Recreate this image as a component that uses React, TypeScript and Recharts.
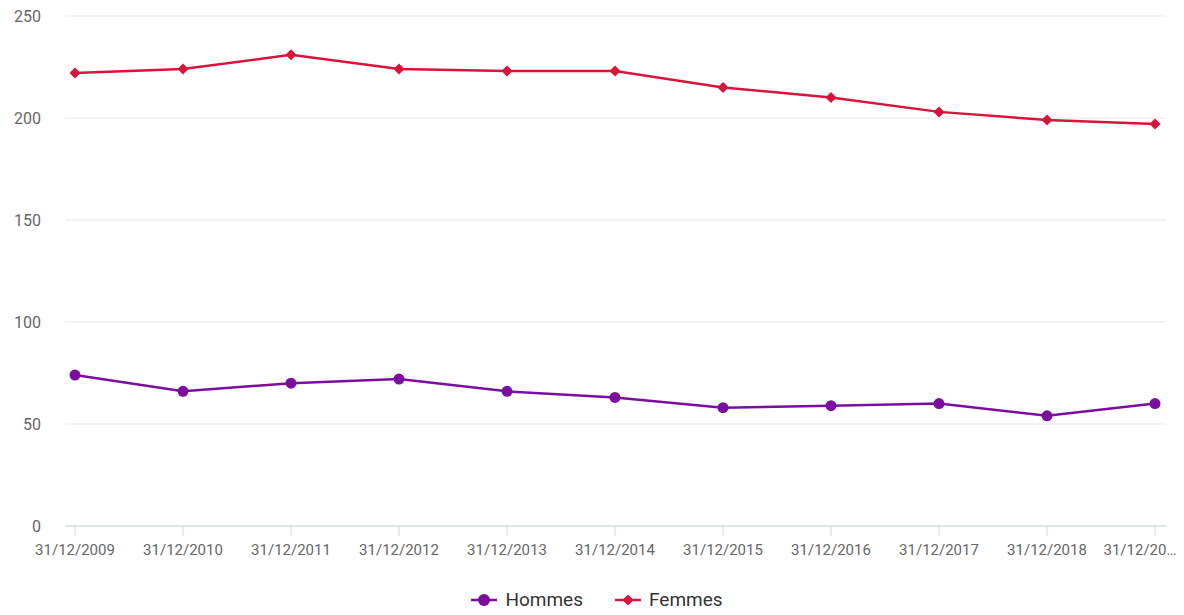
import { LineChart, Line, XAxis, YAxis, CartesianGrid, Legend } from 'recharts';

// Values
const dates = [
  '31/12/2009',
  '31/12/2010',
  '31/12/2011',
  '31/12/2012',
  '31/12/2013',
  '31/12/2014',
  '31/12/2015',
  '31/12/2016',
  '31/12/2017',
  '31/12/2018',
  '31/12/2019',
];
const hommes = [74, 66, 70, 72, 66, 63, 58, 59, 60, 54, 60];
const femmes = [222, 224, 231, 224, 223, 223, 215, 210, 203, 199, 197];
const yTicks = [0, 50, 100, 150, 200, 250];

const HOMMES_COLOR = '#7b0e9f';
const FEMMES_COLOR = '#d9143a';
const FONT = 'Roboto, "Liberation Sans", Arial, sans-serif';

const chartData = dates.map((d, i) => ({ date: d, hommes: hommes[i], femmes: femmes[i] }));

// diamond marker like the original
const Diamond = (props: any) => {
  const { cx, cy, index } = props;
  if (cx == null || cy == null) return null;
  const s = 5.5;
  return (
    <path
      key={`d-${index}`}
      d={`M${cx},${cy - s} L${cx + s},${cy} L${cx},${cy + s} L${cx - s},${cy} Z`}
      fill={FEMMES_COLOR}
    />
  );
};

// x tick: last label is shortened and nudged left so it stays inside
const DateTick = (props: any) => {
  const { x, y, payload, index } = props;
  const last = index === dates.length - 1;
  const label = last ? `${payload.value.slice(0, 8)}…` : payload.value;
  return (
    <text
      x={last ? x - 15 : x}
      y={y}
      dy="0.71em"
      textAnchor="middle"
      fill="#666"
      fontSize={15}
      fontFamily={FONT}
    >
      {label}
    </text>
  );
};

const legendItems = [
  { name: 'Hommes', color: HOMMES_COLOR, shape: 'circle' },
  { name: 'Femmes', color: FEMMES_COLOR, shape: 'diamond' },
];

const CustomLegend = () => (
  <div
    style={{
      display: 'flex',
      justifyContent: 'center',
      gap: 32,
      paddingLeft: 10,
      fontFamily: FONT,
      fontSize: 19,
      color: '#333',
    }}
  >
    {legendItems.map((item) => (
      <div key={item.name} style={{ display: 'flex', alignItems: 'center', gap: 8 }}>
        <svg width={26} height={14}>
          <line x1={0} y1={7} x2={26} y2={7} stroke={item.color} strokeWidth={2.5} />
          {item.shape === 'circle' ? (
            <circle cx={13} cy={7} r={6} fill={item.color} />
          ) : (
            <path d="M13,1.5 L18.5,7 L13,12.5 L7.5,7 Z" fill={item.color} />
          )}
        </svg>
        <span>{item.name}</span>
      </div>
    ))}
  </div>
);

export default function App() {
  return (
    <div style={{ position: 'absolute', left: 0, top: 0, background: '#fff' }}>
      <LineChart
        width={1184}
        height={615}
        data={chartData}
        margin={{ top: 16, right: 18, left: 0, bottom: 16 }}
      >
        <CartesianGrid stroke="#e6e6e6" vertical={false} />
        <XAxis
          dataKey="date"
          height={50}
          padding={{ left: 10, right: 11 }}
          interval={0}
          stroke="#ccd6eb"
          tickSize={10}
          tickMargin={8}
          tick={<DateTick />}
        />
        <YAxis
          width={65}
          domain={[0, 250]}
          ticks={yTicks}
          axisLine={false}
          tickLine={false}
          tickSize={0}
          tickMargin={24}
          tick={{ fill: '#666', fontSize: 16, fontFamily: FONT }}
        />
        <Legend
          content={<CustomLegend />}
          wrapperStyle={{ top: 588, left: 0, width: 1184 }}
        />
        <Line
          dataKey="hommes"
          name="Hommes"
          stroke={HOMMES_COLOR}
          strokeWidth={2.5}
          dot={{ r: 5.5, fill: HOMMES_COLOR, stroke: HOMMES_COLOR, strokeWidth: 0 }}
          activeDot={false}
          isAnimationActive={false}
        />
        <Line
          dataKey="femmes"
          name="Femmes"
          stroke={FEMMES_COLOR}
          strokeWidth={2.5}
          dot={<Diamond />}
          activeDot={false}
          isAnimationActive={false}
        />
      </LineChart>
    </div>
  );
}
